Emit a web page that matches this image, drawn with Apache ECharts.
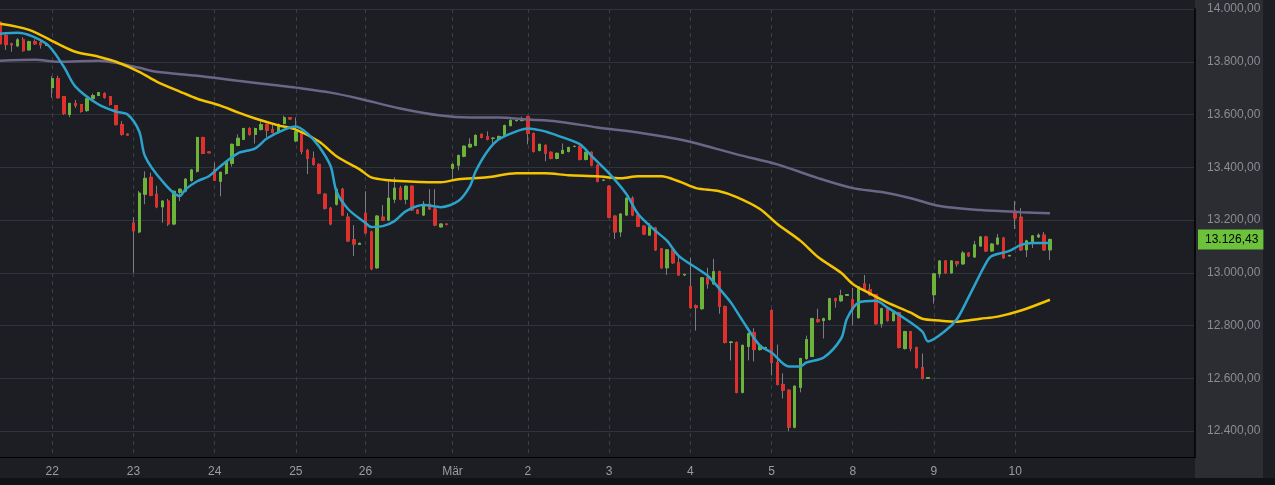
<!DOCTYPE html>
<html><head><meta charset="utf-8">
<script src="https://cdn.jsdelivr.net/npm/echarts@6/dist/echarts.min.js"></script>
<style>html,body{margin:0;padding:0;background:#1c1e23;}#c{width:1275px;height:485px;}</style>
</head><body><div id="c"></div>
<script>
const dayNames = ['', '22', '23', '24', '25', '26', 'Mär', '2', '3', '4', '5', '8', '9', '10'];
const dayCounts = [9, 14, 14, 14, 12, 15, 13, 14, 14, 14, 14, 14, 14, 7];
const padCount = 25;
const lastPrice = 13126.43;
const yTicks = [12400, 12600, 12800, 13000, 13200, 13400, 13600, 13800, 14000];

// [open, close, low, high]
const candles = [
[13950,13868,13860,13962],[13900,13865,13845,13905],[13868,13864,13838,13872],[13860,13883,13855,13890],[13883,13842,13838,13893],[13845,13876,13843,13880],[13876,13868,13864,13885],[13872,13864,13850,13880],[13862,13866,13860,13868],
[13702,13736,13664,13745],[13736,13664,13660,13747],[13668,13604,13598,13670],[13600,13642,13590,13645],[13642,13634,13625,13655],[13638,13612,13607,13640],[13615,13660,13610,13662],[13660,13672,13658,13680],[13672,13683,13670,13686],[13680,13665,13660,13684],[13668,13638,13634,13670],[13634,13562,13558,13636],[13562,13525,13520,13575],[13526,13522,13520,13528],
[13189,13159,13000,13211],[13155,13302,13150,13310],[13298,13358,13260,13385],[13362,13294,13290,13380],[13298,13250,13245,13330],[13250,13272,13190,13275],[13272,13185,13178,13280],[13185,13309,13180,13312],[13305,13317,13272,13320],[13310,13355,13305,13358],[13350,13390,13345,13394],[13385,13513,13380,13516],[13513,13453,13450,13516],[13458,13455,13453,13460],
[13392,13351,13348,13418],[13347,13381,13290,13383],[13377,13420,13372,13423],[13415,13487,13403,13490],[13483,13510,13480,13525],[13506,13547,13503,13550],[13547,13525,13520,13552],[13525,13547,13490,13550],[13543,13562,13540,13575],[13562,13540,13515,13566],[13543,13532,13528,13560],[13532,13562,13528,13566],[13566,13588,13562,13596],[13588,13583,13580,13590],
[13500,13536,13495,13589],[13532,13460,13449,13540],[13464,13434,13374,13470],[13434,13411,13406,13460],[13411,13302,13298,13415],[13298,13245,13240,13302],[13245,13185,13180,13250],[13260,13317,13255,13322],[13317,13219,13215,13322],[13211,13121,13117,13226],[13125,13109,13064,13181],[13108,13112,13106,13114],
[13226,13151,13147,13309],[13155,13015,13010,13160],[13019,13215,13015,13219],[13211,13200,13196,13257],[13200,13283,13196,13347],[13279,13321,13264,13362],[13321,13279,13275,13330],[13279,13328,13260,13332],[13328,13238,13234,13332],[13238,13226,13222,13242],[13219,13260,13215,13272],[13260,13242,13238,13317],[13242,13181,13177,13317],[13174,13185,13172,13188],[13185,13183,13180,13188],
[13396,13411,13355,13415],[13408,13445,13389,13448],[13442,13480,13438,13483],[13477,13487,13474,13510],[13483,13521,13480,13525],[13525,13513,13510,13528],[13517,13506,13502,13536],[13510,13510,13483,13513],[13506,13517,13500,13520],[13521,13558,13518,13562],[13558,13577,13555,13585],[13577,13577,13574,13580],[13577,13578,13574,13592],
[13592,13528,13487,13596],[13528,13460,13456,13532],[13464,13487,13460,13490],[13483,13453,13423,13487],[13457,13434,13430,13460],[13434,13453,13430,13456],[13453,13464,13450,13490],[13460,13475,13456,13478],[13479,13479,13476,13482],[13479,13430,13426,13482],[13430,13457,13426,13460],[13457,13408,13404,13460],[13408,13347,13343,13411],[13351,13351,13348,13354],
[13328,13211,13207,13332],[13215,13155,13128,13218],[13155,13223,13136,13226],[13219,13283,13215,13286],[13283,13219,13215,13290],[13219,13177,13173,13222],[13177,13147,13143,13181],[13143,13174,13140,13189],[13170,13087,13083,13174],[13091,13019,13015,13094],[13019,13087,12992,13090],[13087,13038,13034,13090],[13038,12992,12988,13068],[12992,12994,12989,12996],
[12947,12868,12864,13057],[12875,12868,12781,12880],[12864,12981,12860,12984],[12981,12958,12940,13019],[12958,13004,12955,13053],[13004,12872,12845,13008],[12872,12736,12732,12876],[12736,12738,12668,12740],[12736,12547,12543,12740],[12547,12725,12543,12728],[12721,12770,12668,12774],[12774,12709,12664,12790],[12709,12725,12705,12728],[12715,12717,12712,12720],
[12857,12660,12611,12862],[12660,12577,12573,12728],[12577,12555,12524,12619],[12555,12415,12400,12558],[12415,12570,12410,12574],[12566,12675,12547,12678],[12675,12747,12670,12762],[12683,12826,12680,12830],[12823,12815,12811,12864],[12819,12826,12751,12830],[12823,12902,12819,12905],[12902,12894,12868,12906],[12894,12913,12890,12936],[12915,12917,12912,12920],
[12898,12860,12800,12943],[12830,12947,12826,12950],[12958,12936,12932,12992],[12936,12917,12913,12958],[12917,12807,12803,12920],[12807,12864,12792,12868],[12864,12819,12815,12868],[12819,12849,12815,12852],[12849,12717,12713,12852],[12713,12777,12709,12780],[12777,12713,12702,12780],[12717,12641,12637,12720],[12641,12600,12596,12694],[12600,12603,12598,12605],
[12917,12996,12883,13000],[12996,13045,12981,13048],[13045,13000,12996,13048],[13000,13045,12996,13048],[13042,13034,13023,13045],[13034,13075,13030,13083],[13075,13064,13060,13078],[13060,13106,13056,13121],[13102,13136,13098,13140],[13136,13083,13079,13140],[13083,13109,13079,13113],[13109,13132,13105,13147],[13132,13057,13053,13136],[13064,13066,13062,13068],
[13226,13208,13166,13272],[13211,13087,13083,13245],[13087,13121,13060,13125],[13117,13140,13094,13143],[13136,13143,13132,13150],[13143,13087,13083,13155],[13087,13126.43,13049,13130]
];

// moving averages read at sample candles: [candleIndex, value]
const maFast = [[0,13906],[3,13910],[8,13868],[11,13781],[13,13706],[17,13638],[20,13611],[22,13600],[24,13536],[25,13442],[28,13347],[31,13291],[32,13317],[34,13347],[36,13366],[38,13404],[41,13453],[44,13472],[46,13509],[49,13543],[51,13555],[53,13528],[55,13479],[57,13404],[58,13309],[60,13242],[63,13189],[64,13174],[66,13177],[68,13196],[70,13234],[73,13257],[76,13249],[79,13272],[81,13328],[82,13385],[84,13460],[86,13506],[89,13536],[91,13547],[94,13536],[96,13521],[100,13487],[102,13442],[105,13377],[108,13298],[110,13223],[113,13159],[115,13121],[117,13064],[120,13019],[122,12989],[124,12940],[126,12887],[128,12819],[131,12724],[133,12698],[136,12645],[138,12645],[139,12660],[142,12679],[145,12751],[146,12826],[148,12887],[151,12894],[153,12868],[156,12826],[159,12777],[160,12740],[163,12781],[165,12826],[167,12909],[170,13038],[171,13064],[174,13083],[176,13106],[178,13113],[181,13113]];
const maMid = [[0,13944],[5,13921],[10,13868],[13,13838],[17,13819],[20,13800],[24,13762],[27,13725],[31,13687],[34,13660],[38,13634],[41,13608],[44,13585],[48,13559],[51,13543],[55,13498],[58,13442],[62,13392],[64,13362],[67,13351],[70,13347],[76,13343],[79,13355],[84,13362],[89,13377],[94,13377],[98,13370],[103,13366],[107,13358],[110,13366],[114,13366],[117,13347],[120,13321],[124,13309],[127,13287],[131,13242],[134,13185],[138,13121],[141,13060],[145,13000],[147,12958],[150,12921],[153,12887],[157,12849],[159,12826],[162,12819],[165,12815],[169,12826],[172,12834],[176,12857],[181,12898]];
const maSlow = [[0,13804],[6,13808],[10,13800],[17,13804],[20,13796],[24,13777],[27,13762],[34,13747],[41,13728],[48,13710],[51,13702],[57,13683],[62,13660],[69,13623],[76,13596],[81,13589],[86,13589],[91,13581],[96,13574],[103,13551],[110,13532],[117,13506],[120,13491],[127,13449],[134,13411],[141,13359],[147,13321],[152,13306],[157,13283],[162,13253],[169,13238],[176,13230],[181,13226]];

// build categories
const categories = [];
const dayStart = new Set();
dayNames.forEach((d, di) => {
  for (let k = 0; k < dayCounts[di]; k++) {
    if (k === 0 && d) dayStart.add(categories.length);
    categories.push(d + '#' + k);
  }
});
for (let k = 0; k < padCount; k++) categories.push('pad#' + k);
const N = categories.length;

function maSeries(arr) {
  const out = new Array(N).fill('-');
  arr.forEach(p => { out[p[0]] = p[1]; });
  return out;
}
function fmt(v) {
  const neg = v < 0; v = Math.abs(v);
  let s = v.toFixed(2); let [i, f] = s.split('.');
  i = i.replace(/\B(?=(\d{3})+(?!\d))/g, '.');
  return (neg ? '-' : '') + i + ',' + f;
}
const wickData = candles.map(c => [c[0], c[1], c[2], c[3]]);
const bodyData = candles.map(c => [c[0], c[1], Math.min(c[0], c[1]), Math.max(c[0], c[1])]);

const chart = echarts.init(document.getElementById('c'), null, {renderer: 'canvas'});
chart.setOption({
  backgroundColor: '#1c1e23',
  animation: false,
  graphic: [
    {type: 'rect', z: -10, shape: {x: 1195, y: 0, width: 68, height: 478}, style: {fill: '#2b2d33'}},
    {type: 'rect', z: -10, shape: {x: 0, y: 478, width: 1275, height: 7}, style: {fill: '#111215'}}
  ],
  grid: {left: 0, right: 80, top: 9, bottom: 27.5},
  xAxis: {
    type: 'category', data: categories, boundaryGap: false,
    axisLine: {show: true, lineStyle: {color: '#000'}},
    axisTick: {show: false},
    axisLabel: {
      interval: (i) => dayStart.has(i), color: '#9a9ca2', fontSize: 12, fontFamily: 'Liberation Sans', margin: 8,
      formatter: (v) => v.split('#')[0]
    },
    splitLine: {show: true, interval: (i) => dayStart.has(i), lineStyle: {color: '#3b3e45', type: [4, 4], width: 1}}
  },
  yAxis: {
    type: 'value', position: 'right', min: 12300, max: 14000, interval: 100,
    axisLine: {show: true, lineStyle: {color: '#000', width: 1.5}},
    axisTick: {show: false},
    axisLabel: {
      color: '#8a8c92', fontSize: 12, fontFamily: 'Liberation Sans', margin: 12,
      formatter: (v) => yTicks.includes(v) ? fmt(v) : ''
    },
    splitLine: {show: true, lineStyle: {color: ['transparent', '#30333a'], width: 1}},
    axisPointer: {
      show: true, value: lastPrice, status: 'show', triggerOn: 'none', triggerTooltip: false,
      lineStyle: {opacity: 0},
      label: {show: true, backgroundColor: '#6cc23a', color: '#000', fontSize: 12, fontFamily: 'Liberation Sans',
        padding: [4, 5, 4, 7], borderRadius: 0, formatter: (p) => fmt(p.value)}
    }
  },
  series: [
    {type: 'candlestick', data: wickData, barMaxWidth: 4, z: 1,
     itemStyle: {color: '#7b7d82', color0: '#7b7d82', borderColor: '#7b7d82', borderColor0: '#7b7d82', borderWidth: 1}},
    {type: 'candlestick', data: bodyData, barMaxWidth: 4, z: 2,
     itemStyle: {color: '#6cb33a', color0: '#e0302b', borderColor: '#6cb33a', borderColor0: '#e0302b', borderWidth: 1}},
    {type: 'line', data: maSeries(maSlow), connectNulls: true, smooth: 0.3, symbol: 'none', z: 3,
     lineStyle: {color: '#6d6587', width: 2.5}},
    {type: 'line', data: maSeries(maMid), connectNulls: true, smooth: 0.3, symbol: 'none', z: 4,
     lineStyle: {color: '#f5c400', width: 2.5}},
    {type: 'line', data: maSeries(maFast), connectNulls: true, smooth: 0.3, symbol: 'none', z: 5,
     lineStyle: {color: '#2ba3cc', width: 2.5}}
  ]
});
</script></body></html>
